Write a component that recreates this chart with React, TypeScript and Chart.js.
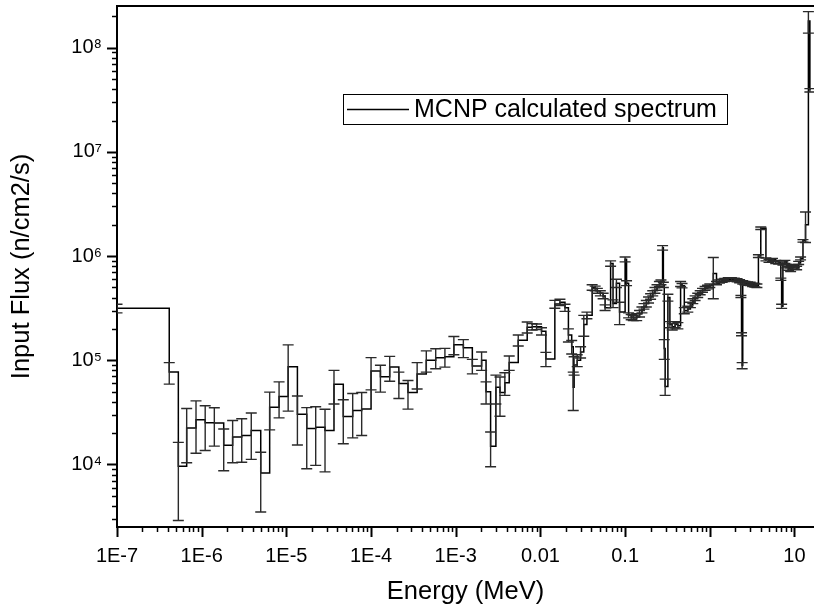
import React, { useEffect, useRef } from 'react';
import { Chart, registerables } from 'chart.js';

Chart.register(...registerables);

// ---- data ----
const energyMeV: number[] = [
  1e-7, 4.14e-7, 5.3e-7, 6.65e-7, 8.57e-7, 1.1e-6, 1.41e-6, 1.82e-6, 2.32e-6, 2.97e-6,
  3.85e-6, 4.98e-6, 6.35e-6, 8.2e-6, 1.05e-5, 1.35e-5, 1.74e-5, 2.22e-5, 2.86e-5, 3.65e-5,
  4.7e-5, 6.07e-5, 7.75e-5, 1.0e-4, 1.29e-4, 1.66e-4, 2.13e-4, 2.73e-4, 3.5e-4, 4.49e-4,
  5.8e-4, 7.45e-4, 9.5e-4, 1.23e-3, 1.57e-3, 2.02e-3, 2.28e-3, 2.58e-3, 2.98e-3, 3.33e-3,
  3.8e-3, 4.28e-3, 5.47e-3, 6.98e-3, 8.0e-3, 9.0e-3, 1.03e-2, 1.16e-2, 1.48e-2, 1.7e-2,
  1.95e-2, 2.14e-2, 2.34e-2, 2.44e-2, 2.5e-2, 2.72e-2, 2.98e-2, 3.25e-2, 3.54e-2, 4.08e-2,
  4.43e-2, 4.7e-2, 5.1e-2, 5.5e-2, 5.8e-2, 6.74e-2, 7.2e-2, 7.9e-2, 8.6e-2, 0.1,
  0.104, 0.11, 0.118, 0.125, 0.137, 0.148, 0.158, 0.167, 0.178, 0.189,
  0.2, 0.212, 0.225, 0.238, 0.254, 0.265, 0.277, 0.283, 0.29, 0.297,
  0.32, 0.338, 0.36, 0.39, 0.42, 0.452, 0.47, 0.5, 0.55, 0.59,
  0.63, 0.67, 0.72, 0.77, 0.82, 0.88, 0.94, 1.0, 1.1, 1.2,
  1.3, 1.4, 1.5, 1.65, 1.8, 1.95, 2.1, 2.25, 2.33, 2.37,
  2.41, 2.45, 2.6, 2.8, 3.0, 3.2, 3.4, 3.6, 3.75, 4.0,
  4.6, 5.0, 5.5, 6.0, 6.5, 6.9, 7.05, 7.3, 7.7, 8.1,
  8.5, 9.0, 9.5, 10.0, 10.6, 11.2, 11.8, 12.6, 13.5, 14.6,
  15.2,
];

const fluxValues: number[] = [
  3.15e5, 7.7e4, 9.6e3, 2.24e4, 2.68e4, 2.51e4, 2.5e4, 1.53e4, 1.84e4, 1.9e4,
  2.12e4, 8.3e3, 3.55e4, 4.5e4, 8.65e4, 3.04e4, 2.21e4, 2.28e4, 2.12e4, 5.9e4,
  2.88e4, 3.3e4, 3.4e4, 7.9e4, 6.95e4, 8.6e4, 6.0e4, 4.9e4, 7.4e4, 1.0e5,
  1.06e5, 1.08e5, 1.41e5, 1.32e5, 8.8e4, 1.0e5, 5.0e4, 1.5e4, 5.5e4, 4.9e4,
  6.1e4, 9.5e4, 1.56e5, 2.08e5, 2.1e5, 2.1e5, 1.9e5, 1.03e5, 3.46e5, 3.6e5,
  3.2e5, 1.75e5, 1.35e5, 5.5e4, 9.0e4, 1.0e5, 1.2e5, 2.2e5, 2.7e5, 5.0e5,
  4.9e5, 4.65e5, 4.4e5, 4.15e5, 3.2e5, 8.5e5, 3.5e5, 5.5e5, 2.9e5, 9.3e5,
  5.5e5, 2.7e5, 2.6e5, 2.55e5, 2.6e5, 2.8e5, 3.05e5, 3.3e5, 3.5e5, 3.8e5,
  4.1e5, 4.4e5, 4.7e5, 5.0e5, 5.4e5, 5.6e5, 1.2e6, 5.3e5, 1.3e5, 5.6e4,
  4.0e5, 2.2e5, 2.1e5, 2.2e5, 2.15e5, 5.4e5, 5.2e5, 3.0e5, 3.1e5, 3.4e5,
  3.7e5, 3.95e5, 4.2e5, 4.45e5, 4.7e5, 4.9e5, 5.05e5, 5.2e5, 6.8e5, 5.5e5,
  5.7e5, 5.8e5, 5.9e5, 6.0e5, 6.0e5, 5.95e5, 5.85e5, 5.75e5, 4.1e5, 1.78e5,
  8.9e4, 5.6e5, 5.5e5, 5.45e5, 5.4e5, 5.3e5, 5.25e5, 5.2e5, 1.0e6, 1.85e6,
  9.3e5, 9.0e5, 9.2e5, 8.8e5, 8.7e5, 6.0e5, 3.3e5, 8.5e5, 8.8e5, 8.0e5,
  7.6e5, 7.4e5, 7.8e5, 8.0e5, 7.7e5, 8.6e5, 9.5e5, 1.4e6, 2.0e6, 1.8e8,
  3.9e7,
];

const fluxErrors: number[] = [
  3.0e4, 1.8e4, 6.7e3, 1.2e4, 1.4e4, 1.15e4, 1.0e4, 6.6e3, 8e3, 8.5e3,
  1.0e4, 4.8e3, 1.4e4, 1.7e4, 5.4e4, 1.5e4, 1.3e4, 1.3e4, 1.27e4, 2.1e4,
  1.3e4, 1.5e4, 1.5e4, 2.7e4, 2.0e4, 2.3e4, 1.7e4, 1.5e4, 2.1e4, 2.3e4,
  2.3e4, 2.2e4, 2.8e4, 2.6e4, 1.4e4, 2.0e4, 1.2e4, 5.5e3, 1.7e4, 2.0e4,
  1.5e4, 1.5e4, 1.9e4, 2.5e4, 1.5e4, 1.3e4, 1.5e4, 1.6e4, 3e4, 2.5e4,
  2.5e4, 2.5e4, 2e4, 2.2e4, 1.8e4, 1.3e4, 1.5e4, 5e4, 2e4, 3e4,
  2.5e4, 2.5e4, 2.5e4, 2.5e4, 2e4, 5e4, 3e4, 5e4, 7e4, 5e4,
  3e4, 1.5e4, 1.5e4, 1.5e4, 2e4, 2e4, 2e4, 2e4, 2.5e4, 2.5e4,
  2.5e4, 2.5e4, 3e4, 3e4, 3e4, 3e4, 6e4, 3e4, 2.8e4, 1e4,
  3e4, 1.5e4, 1.5e4, 1.5e4, 1.5e4, 3e4, 2.5e4, 2e4, 2e4, 2e4,
  2e4, 2e4, 2e4, 2e4, 2e4, 2e4, 2e4, 2e4, 2.9e5, 2e4,
  2e4, 2e4, 2e4, 2e4, 2e4, 2e4, 2e4, 2e4, 1e4, 6e3,
  6e3, 2e4, 2e4, 2e4, 2e4, 2e4, 2e4, 2e4, 3e4, 5e4,
  3e4, 3e4, 3e4, 3e4, 3e4, 1.5e4, 1.5e4, 3e4, 3e4, 3e4,
  3e4, 3e4, 3e4, 3e4, 3e4, 3e4, 3e4, 4e4, 6.5e5, 4.2e7,
  1.5e6,
];

const xTickExponents: number[] = [-7, -6, -5, -4, -3, -2, -1, 0, 1];
const xTickLabels: string[] = ['1E-7', '1E-6', '1E-5', '1E-4', '1E-3', '0.01', '0.1', '1', '10'];
const yTickExponents: number[] = [4, 5, 6, 7, 8];
const yTickLabels: string[] = ['10\u2074', '10\u2075', '10\u2076', '10\u2077', '10\u2078'];

const seriesLabel = 'MCNP calculated spectrum';
const xTitle = 'Energy (MeV)';
const yTitle = 'Input Flux (n/cm2/s)';

const X_MIN = 1e-7;
const X_MAX = 17;
const Y_MIN = 2.512e3;
const Y_MAX = 2.512e8;

const FONT = '"Liberation Sans", Arial, Helvetica, sans-serif';

function labelFor(value: number, exps: number[], labels: string[]): string {
  const l = Math.log10(value);
  const e = Math.round(l);
  if (Math.abs(l - e) > 1e-6) return '';
  const idx = exps.indexOf(e);
  return idx >= 0 ? labels[idx] : '';
}

function mantissaInfo(value: number): { ok: boolean; major: boolean } {
  const e = Math.floor(Math.log10(value) + 1e-9);
  const m = value / Math.pow(10, e);
  const r = Math.round(m);
  if (Math.abs(m - r) > 1e-6 || r < 1 || r > 9) return { ok: false, major: false };
  return { ok: true, major: r === 1 };
}

const axisTicksPlugin = {
  id: 'axisTicks',
  afterDraw(chart: any) {
    const { ctx, chartArea } = chart;
    const xs = chart.scales.x;
    const ys = chart.scales.y;
    ctx.save();
    ctx.strokeStyle = '#000';
    xs.ticks.forEach((t: any) => {
      const info = mantissaInfo(t.value);
      if (!info.ok) return;
      const px = Math.round(xs.getPixelForValue(t.value)) + 0.5;
      if (px < chartArea.left - 1 || px > chartArea.right + 1) return;
      ctx.lineWidth = info.major ? 2 : 1.5;
      ctx.beginPath();
      ctx.moveTo(px, chartArea.bottom);
      ctx.lineTo(px, chartArea.bottom + (info.major ? 10 : 5));
      ctx.stroke();
    });
    ys.ticks.forEach((t: any) => {
      const info = mantissaInfo(t.value);
      if (!info.ok) return;
      const py = Math.round(ys.getPixelForValue(t.value)) + 0.5;
      if (py < chartArea.top - 1 || py > chartArea.bottom + 1) return;
      ctx.lineWidth = info.major ? 2 : 1.5;
      ctx.beginPath();
      ctx.moveTo(chartArea.left, py);
      ctx.lineTo(chartArea.left - (info.major ? 10 : 5), py);
      ctx.stroke();
    });
    // top frame line
    ctx.lineWidth = 2;
    ctx.beginPath();
    ctx.moveTo(chartArea.left - 1, chartArea.top);
    ctx.lineTo(chartArea.right, chartArea.top);
    ctx.stroke();
    ctx.restore();
  },
};

const errorBarPlugin = {
  id: 'errorBars',
  afterDatasetsDraw(chart: any) {
    const { ctx, chartArea } = chart;
    const xs = chart.scales.x;
    const ys = chart.scales.y;
    ctx.save();
    ctx.beginPath();
    ctx.rect(chartArea.left, chartArea.top, chartArea.right - chartArea.left, chartArea.bottom - chartArea.top);
    ctx.clip();
    ctx.strokeStyle = '#2a2a2a';
    ctx.lineWidth = 1.4;
    const cap = 5.5;
    energyMeV.forEach((e, i) => {
      const v = fluxValues[i];
      const err = fluxErrors[i];
      const px = xs.getPixelForValue(e);
      const pTop = ys.getPixelForValue(v + err);
      const low = v - err;
      const pBot = low > 0 ? ys.getPixelForValue(low) : chartArea.bottom + 5;
      ctx.beginPath();
      ctx.moveTo(px, pTop);
      ctx.lineTo(px, pBot);
      ctx.moveTo(px - cap, pTop);
      ctx.lineTo(px + cap, pTop);
      if (low > 0) {
        ctx.moveTo(px - cap, pBot);
        ctx.lineTo(px + cap, pBot);
      }
      ctx.stroke();
    });
    ctx.restore();
  },
};

const legendBoxPlugin = {
  id: 'legendBox',
  afterDraw(chart: any) {
    const { ctx } = chart;
    const ds = chart.data.datasets[0];
    ctx.save();
    ctx.strokeStyle = '#000';
    ctx.lineWidth = 1;
    ctx.strokeRect(343.5, 94.5, 384, 30);
    ctx.lineWidth = 1.3;
    ctx.beginPath();
    ctx.moveTo(347, 109.5);
    ctx.lineTo(409, 109.5);
    ctx.stroke();
    ctx.fillStyle = '#000';
    ctx.font = `25px ${FONT}`;
    ctx.textAlign = 'left';
    ctx.textBaseline = 'middle';
    ctx.fillText(ds.label, 414, 110);
    ctx.restore();
  },
};

export default function App() {
  const canvasRef = useRef<HTMLCanvasElement | null>(null);

  useEffect(() => {
    const canvas = canvasRef.current;
    if (!canvas) return;
    const points = energyMeV.map((e, i) => ({ x: e, y: fluxValues[i] }));
    const chart = new Chart(canvas, {
      type: 'line',
      data: {
        datasets: [
          {
            label: seriesLabel,
            data: points,
            stepped: 'before',
            borderColor: '#000',
            borderWidth: 1.5,
            pointRadius: 0,
            fill: false,
          } as any,
        ],
      },
      options: {
        animation: false,
        responsive: false,
        devicePixelRatio: 1,
        layout: { padding: { top: 6, left: 0, right: 0, bottom: 0 } },
        plugins: {
          legend: { display: false },
          tooltip: { enabled: false },
        },
        scales: {
          x: {
            type: 'logarithmic',
            min: X_MIN,
            max: X_MAX,
            position: 'bottom',
            grid: { display: false, drawTicks: false },
            border: { display: true, color: '#000', width: 2 },
            ticks: {
              autoSkip: false,
              maxRotation: 0,
              padding: 17,
              color: '#000',
              font: { family: FONT, size: 20 },
              callback: (v: any) => labelFor(Number(v), xTickExponents, xTickLabels),
            },
            title: {
              display: true,
              text: xTitle,
              color: '#000',
              font: { family: FONT, size: 25.5 },
              padding: { top: 0, bottom: 3 },
            },
            afterFit: (s: any) => {
              s.height = 83;
              s.paddingLeft = 0;
              s.paddingRight = 0;
            },
          },
          y: {
            type: 'logarithmic',
            min: Y_MIN,
            max: Y_MAX,
            position: 'left',
            grid: { display: false, drawTicks: false },
            border: { display: true, color: '#000', width: 2 },
            ticks: {
              autoSkip: false,
              padding: 15,
              color: '#000',
              font: { family: FONT, size: 20 },
              callback: (v: any) => labelFor(Number(v), yTickExponents, yTickLabels),
            },
            title: {
              display: true,
              text: yTitle,
              color: '#000',
              font: { family: FONT, size: 25.5 },
              padding: { top: 7, bottom: 0 },
            },
            afterFit: (s: any) => {
              s.width = 117;
              s.paddingTop = 0;
              s.paddingBottom = 0;
            },
          },
        },
      } as any,
      plugins: [errorBarPlugin, axisTicksPlugin, legendBoxPlugin],
    });
    return () => chart.destroy();
  }, []);

  return (
    <div style={{ position: 'fixed', left: 0, top: 0, width: 814, height: 610, background: '#fff' }}>
      <canvas ref={canvasRef} width={814} height={610} style={{ display: 'block', width: 814, height: 610 }} />
    </div>
  );
}
